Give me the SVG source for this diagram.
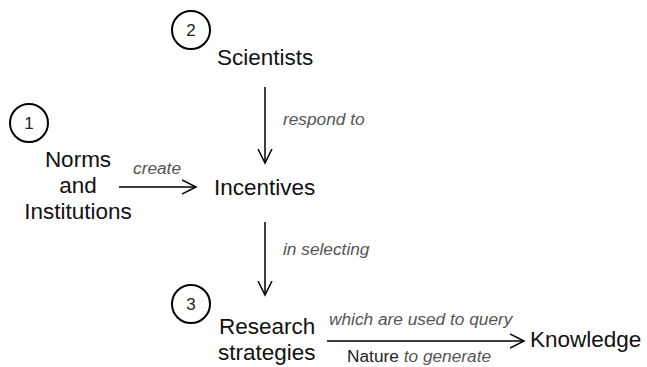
<svg xmlns="http://www.w3.org/2000/svg" width="647" height="367" viewBox="0 0 647 367">
<style>
.n{font-family:"Liberation Sans",Arial,sans-serif;font-size:22.5px;fill:#111}
.l{font-family:"Liberation Sans",Arial,sans-serif;font-size:17.3px;font-style:italic;fill:#555}
.d{font-family:"Liberation Sans",Arial,sans-serif;font-size:17px;fill:#222;text-anchor:middle}
.c{fill:none;stroke:#000;stroke-width:2}
.e{stroke:#000;stroke-width:1.5;fill:none}
</style>
<defs>
<marker id="ah" markerWidth="16" markerHeight="16" refX="14" refY="8" orient="auto" markerUnits="userSpaceOnUse">
<path d="M0,1 L14,8 L0,15" fill="none" stroke="#000" stroke-width="1.5"/>
</marker>
</defs>
<rect width="647" height="367" fill="#fff"/>
<g id="badge1"><circle class="c" cx="29" cy="123" r="19"/><text class="d" x="29" y="129">1</text></g>
<g id="badge2"><circle class="c" cx="191" cy="30" r="19"/><text class="d" x="191" y="36">2</text></g>
<g id="badge3"><circle class="c" cx="191" cy="304" r="19"/><text class="d" x="191" y="310">3</text></g>
<g id="scientists"><text class="n" x="217" y="65">Scientists</text></g>
<g id="norms"><text class="n" text-anchor="middle"><tspan x="78" y="167">Norms</tspan><tspan x="78" y="193">and</tspan><tspan x="78" y="219">Institutions</tspan></text></g>
<g id="incentives"><text class="n" x="214" y="195">Incentives</text></g>
<g id="research"><text class="n" x="219" y="334">Research</text><text class="n" x="218" y="360">strategies</text></g>
<g id="knowledge"><text class="n" x="530" y="347">Knowledge</text></g>
<g id="connectors">
<line class="e" x1="265" y1="87" x2="265" y2="163" marker-end="url(#ah)"/>
<text class="l" x="283" y="125">respond to</text>
<line class="e" x1="119" y1="187" x2="196" y2="187" marker-end="url(#ah)"/>
<text class="l" x="133" y="174">create</text>
<line class="e" x1="265" y1="222" x2="265" y2="295" marker-end="url(#ah)"/>
<text class="l" x="283" y="255">in selecting</text>
<line class="e" x1="327" y1="341" x2="524" y2="341" marker-end="url(#ah)"/>
<text class="l" x="329" y="325">which are used to query</text>
<text class="l" x="347" y="362"><tspan style="font-style:normal;fill:#222">Nature</tspan> to generate</text>
</g>
</svg>
